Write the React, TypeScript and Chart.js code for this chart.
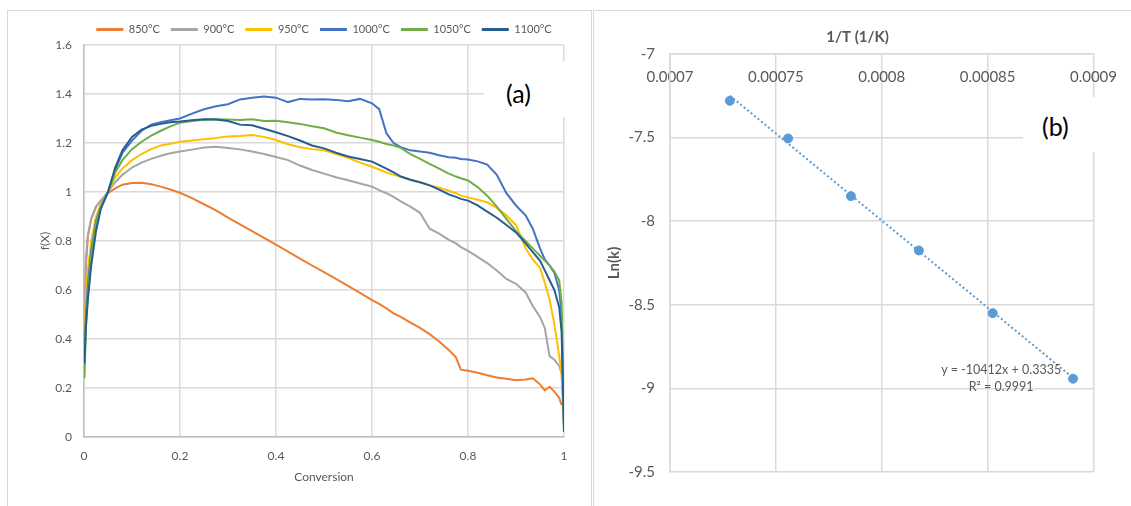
import React, { useEffect, useRef } from 'react';
import { Chart, registerables } from 'chart.js';

Chart.register(...registerables);

// ---------- Chart (a): f(X) vs conversion ----------
const conversion = [0.001, 0.004, 0.008, 0.015, 0.025, 0.035, 0.05, 0.065, 0.08, 0.1, 0.12, 0.14, 0.16, 0.18, 0.2, 0.225, 0.25, 0.275, 0.3, 0.325, 0.35, 0.375, 0.4, 0.425, 0.45, 0.475, 0.5, 0.525, 0.55, 0.575, 0.6, 0.615, 0.63, 0.645, 0.66, 0.68, 0.7, 0.72, 0.74, 0.76, 0.775, 0.785, 0.8, 0.82, 0.84, 0.86, 0.88, 0.9, 0.92, 0.935, 0.95, 0.96, 0.97, 0.98, 0.99, 0.995, 1.0];

const f850 = [0.42, 0.70, 0.82, 0.89, 0.94, 0.965, 0.995, 1.015, 1.03, 1.037, 1.038, 1.032, 1.022, 1.01, 0.997, 0.975, 0.95, 0.925, 0.895, 0.868, 0.84, 0.813, 0.785, 0.757, 0.728, 0.700, 0.673, 0.645, 0.617, 0.588, 0.559, 0.543, 0.525, 0.505, 0.49, 0.467, 0.445, 0.42, 0.39, 0.355, 0.325, 0.275, 0.27, 0.262, 0.252, 0.243, 0.238, 0.232, 0.235, 0.24, 0.215, 0.19, 0.205, 0.185, 0.16, 0.13, null];
const f900 = [0.45, 0.72, 0.82, 0.89, 0.94, 0.965, 1.0, 1.04, 1.07, 1.10, 1.12, 1.135, 1.148, 1.158, 1.165, 1.173, 1.182, 1.185, 1.18, 1.174, 1.165, 1.155, 1.143, 1.13, 1.108, 1.09, 1.075, 1.06, 1.048, 1.035, 1.022, 1.008, 0.995, 0.98, 0.962, 0.94, 0.915, 0.85, 0.83, 0.805, 0.79, 0.775, 0.76, 0.735, 0.71, 0.68, 0.645, 0.625, 0.59, 0.535, 0.49, 0.445, 0.33, 0.315, 0.29, 0.26, 0.05];
const f950 = [0.40, 0.58, 0.68, 0.80, 0.9, 0.95, 1.0, 1.06, 1.095, 1.13, 1.155, 1.175, 1.19, 1.197, 1.205, 1.21, 1.215, 1.22, 1.227, 1.229, 1.233, 1.225, 1.212, 1.195, 1.183, 1.175, 1.17, 1.155, 1.14, 1.12, 1.103, 1.092, 1.08, 1.07, 1.062, 1.05, 1.04, 1.028, 1.018, 1.005, 0.995, 0.985, 0.978, 0.968, 0.958, 0.935, 0.905, 0.865, 0.77, 0.725, 0.69, 0.63, 0.56, 0.46, 0.33, 0.26, 0.08];
const f1000 = [0.33, 0.5, 0.62, 0.76, 0.88, 0.94, 1.0, 1.09, 1.16, 1.21, 1.25, 1.275, 1.285, 1.293, 1.30, 1.32, 1.338, 1.35, 1.358, 1.378, 1.385, 1.39, 1.385, 1.367, 1.38, 1.378, 1.379, 1.376, 1.37, 1.38, 1.362, 1.338, 1.24, 1.2, 1.183, 1.17, 1.165, 1.16, 1.15, 1.142, 1.14, 1.135, 1.133, 1.125, 1.112, 1.07, 0.995, 0.945, 0.905, 0.85, 0.77, 0.725, 0.70, 0.67, 0.6, 0.5, 0.03];
const f1050 = [0.24, 0.45, 0.58, 0.74, 0.87, 0.94, 1.0, 1.08, 1.13, 1.175, 1.205, 1.23, 1.25, 1.268, 1.283, 1.29, 1.295, 1.297, 1.296, 1.294, 1.297, 1.29, 1.291, 1.285, 1.278, 1.268, 1.26, 1.243, 1.232, 1.222, 1.212, 1.205, 1.196, 1.19, 1.18, 1.155, 1.135, 1.115, 1.095, 1.075, 1.063, 1.056, 1.047, 1.02, 0.985, 0.94, 0.89, 0.84, 0.8, 0.77, 0.74, 0.72, 0.70, 0.675, 0.64, 0.55, 0.02];
const f1100 = [0.30, 0.45, 0.56, 0.70, 0.84, 0.93, 1.0, 1.1, 1.17, 1.225, 1.255, 1.27, 1.278, 1.285, 1.288, 1.293, 1.297, 1.296, 1.29, 1.275, 1.272, 1.258, 1.244, 1.228, 1.21, 1.19, 1.178, 1.16, 1.145, 1.135, 1.124, 1.11, 1.095, 1.08, 1.063, 1.05, 1.04, 1.027, 1.01, 0.99, 0.98, 0.972, 0.965, 0.945, 0.92, 0.895, 0.865, 0.835, 0.79, 0.755, 0.72, 0.68, 0.64, 0.6, 0.53, 0.43, 0.02];

const seriesLabels = ['850°C', '900°C', '950°C', '1000°C', '1050°C', '1100°C'];
const seriesValues = [f850, f900, f950, f1000, f1050, f1100];
const seriesColors = ['#ED7D31', '#A5A5A5', '#FFC000', '#4472C4', '#70AD47', '#255E91'];

const xTickValuesA = [0, 0.2, 0.4, 0.6, 0.8, 1];
const xTickLabelsA = ['0', '0.2', '0.4', '0.6', '0.8', '1'];
const yTickValuesA = [0, 0.2, 0.4, 0.6, 0.8, 1, 1.2, 1.4, 1.6];
const yTickLabelsA = ['0', '0.2', '0.4', '0.6', '0.8', '1', '1.2', '1.4', '1.6'];

// ---------- Chart (b): Arrhenius plot ----------
const invT = [0.00072826, 0.00075577, 0.00078544, 0.00081753, 0.0008524, 0.00089036];
const lnK = [-7.28, -7.505, -7.85, -8.175, -8.55, -8.942];
const trendSlope = -10412;
const trendIntercept = 0.3335;
const trendR2 = 0.9991;

const xTickValuesB = [0.0007, 0.00075, 0.0008, 0.00085, 0.0009];
const xTickLabelsB = ['0.0007', '0.00075', '0.0008', '0.00085', '0.0009'];
const yTickValuesB = [-9.5, -9, -8.5, -8, -7.5, -7];
const yTickLabelsB = ['-9.5', '-9', '-8.5', '-8', '-7.5', '-7'];

const TXT = '#595959';
const GRID = '#d9d9d9';

const annotB = {
  id: 'annotB',
  afterDraw(chart: any) {
    const { ctx, chartArea: a } = chart;
    const w = a.right - a.left;
    const h = a.bottom - a.top;
    ctx.save();
    ctx.fillStyle = TXT;
    ctx.textAlign = 'center';
    ctx.textBaseline = 'middle';
    ctx.font = 'bold 15px Lato';
    ctx.fillText('1/T (1/K)', a.left + 0.443 * w, a.top - 17);
    ctx.font = '12.5px Lato';
    const cx = a.left + 0.782 * w;
    ctx.fillText(`y = ${trendSlope}x + ${trendIntercept}`, cx, a.top + 0.756 * h);
    ctx.fillText(`R² = ${trendR2}`, cx, a.top + 0.797 * h);
    ctx.restore();
  },
};

export default function App() {
  const refA = useRef<HTMLCanvasElement>(null);
  const refB = useRef<HTMLCanvasElement>(null);

  useEffect(() => {
    Chart.defaults.font.family = 'Lato';
    const fontA = { family: 'Lato', size: 12 };

    const chartA = new Chart(refA.current!, {
      type: 'line',
      data: {
        datasets: seriesLabels.map((label, i) => ({
          label,
          data: conversion.map((x, j) => ({ x, y: seriesValues[i][j] })),
          borderColor: seriesColors[i],
          backgroundColor: seriesColors[i],
          borderWidth: 2,
          pointRadius: 0,
          tension: 0,
          order: seriesLabels.length - i,
        })),
      },
      options: {
        responsive: false,
        animation: false,
        events: [],
        layout: { padding: { left: 26, right: 26, top: 2, bottom: 13 } },
        plugins: {
          tooltip: { enabled: false },
          legend: {
            position: 'top',
            fullSize: false,
            labels: {
              boxWidth: 27,
              boxHeight: 3,
              padding: 11,
              color: TXT,
              font: { family: 'Lato', size: 11 },
              sort: (a: any, b: any) => a.datasetIndex - b.datasetIndex,
              generateLabels: (chart: any) =>
                Chart.defaults.plugins.legend.labels
                  .generateLabels(chart)
                  .map((l: any) => ({ ...l, lineWidth: 0, fillStyle: l.strokeStyle })),
            },
          },
        },
        scales: {
          x: {
            type: 'linear',
            min: 0,
            max: 1,
            afterBuildTicks: (s: any) => {
              s.ticks = xTickValuesA.map((v) => ({ value: v }));
            },
            afterFit: (s: any) => {
              s.height = 51;
            },
            ticks: {
              callback: (_v: any, i: number) => xTickLabelsA[i],
              color: TXT,
              font: fontA,
              padding: 12,
              maxRotation: 0,
              autoSkip: false,
            },
            grid: { color: GRID, lineWidth: 1.5, drawTicks: false },
            border: { color: '#bfbfbf', width: 1.5 },
            title: { display: true, text: 'Conversion', color: TXT, font: fontA, padding: { top: 4, bottom: 4 } },
          },
          y: {
            type: 'linear',
            min: 0,
            max: 1.6,
            afterBuildTicks: (s: any) => {
              s.ticks = yTickValuesA.map((v) => ({ value: v }));
            },
            afterFit: (s: any) => {
              s.width = 50;
            },
            ticks: {
              callback: (_v: any, i: number) => yTickLabelsA[i],
              color: TXT,
              font: fontA,
              padding: 12,
              autoSkip: false,
            },
            grid: { color: GRID, lineWidth: 1.5, drawTicks: false },
            border: { color: '#bfbfbf', width: 1.5 },
            title: { display: true, text: 'f(X)', color: TXT, font: fontA, padding: { top: 4, bottom: 4 } },
          },
        },
      },
    } as any);

    const fontB = { family: 'Lato', size: 15 };
    const chartB = new Chart(refB.current!, {
      type: 'scatter',
      data: {
        datasets: [
          {
            label: 'Ln(k)',
            data: invT.map((x, i) => ({ x, y: lnK[i] })),
            backgroundColor: '#5B9BD5',
            borderColor: '#5B9BD5',
            pointRadius: 4.5,
            showLine: false,
            order: 0,
          },
          {
            label: 'Linear (Ln(k))',
            type: 'line',
            data: [invT[0], invT[invT.length - 1]].map((x) => ({ x, y: trendSlope * x + trendIntercept })),
            borderColor: '#5B9BD5',
            borderWidth: 2,
            borderDash: [2, 2.5],
            pointRadius: 0,
            fill: false,
            order: 1,
          },
        ],
      },
      options: {
        responsive: false,
        animation: false,
        events: [],
        layout: { padding: { left: 7, right: 30, top: 13, bottom: 34 } },
        plugins: { legend: { display: false }, tooltip: { enabled: false } },
        scales: {
          x: {
            type: 'linear',
            position: 'top',
            min: 0.0007,
            max: 0.0009,
            afterBuildTicks: (s: any) => {
              s.ticks = xTickValuesB.map((v) => ({ value: v }));
            },
            afterFit: (s: any) => {
              s.height = 30;
            },
            ticks: {
              callback: (_v: any, i: number) => xTickLabelsB[i],
              mirror: true,
              padding: 14,
              color: TXT,
              font: fontB,
              maxRotation: 0,
              autoSkip: false,
            },
            grid: { color: GRID, lineWidth: 1.5, drawTicks: false },
            border: { color: GRID, width: 1.5 },
          },
          y: {
            type: 'linear',
            min: -9.5,
            max: -7,
            afterBuildTicks: (s: any) => {
              s.ticks = yTickValuesB.map((v) => ({ value: v }));
            },
            afterFit: (s: any) => {
              s.width = 69;
            },
            ticks: {
              callback: (_v: any, i: number) => yTickLabelsB[i],
              padding: 15,
              color: TXT,
              font: fontB,
              autoSkip: false,
            },
            grid: { color: GRID, lineWidth: 1.5, drawTicks: false },
            border: { color: GRID, width: 1.5 },
            title: {
              display: true,
              text: 'Ln(k)',
              color: TXT,
              font: { family: 'Lato', size: 15, weight: 'bold' },
              padding: { top: 4, bottom: 4 },
            },
          },
        },
      },
      plugins: [annotB],
    } as any);

    return () => {
      chartA.destroy();
      chartB.destroy();
    };
  }, []);

  const labelBox: React.CSSProperties = {
    position: 'absolute',
    background: '#ffffff',
    fontFamily: 'Lato',
    fontSize: 25,
    lineHeight: '28px',
    color: '#000000',
  };

  return (
    <div style={{ position: 'fixed', left: 0, top: 0, width: 1131, height: 506, background: '#ffffff', overflow: 'hidden' }}>
      <div style={{ position: 'absolute', left: 7, top: 10, width: 585, height: 520, border: '1px solid #d9d9d9', boxSizing: 'border-box' }} />
      <div style={{ position: 'absolute', left: 593, top: 10, width: 560, height: 520, border: '1px solid #d9d9d9', boxSizing: 'border-box' }} />
      <canvas ref={refA} width={582} height={490} style={{ position: 'absolute', left: 8, top: 11, width: 582, height: 490 }} />
      <canvas ref={refB} width={537} height={495} style={{ position: 'absolute', left: 594, top: 11, width: 537, height: 495 }} />
      <div style={{ ...labelBox, left: 484, top: 61, width: 86, height: 56 }}>
        <span style={{ position: 'absolute', left: 22, top: 18 }}>(a)</span>
      </div>
      <div style={{ ...labelBox, left: 1023, top: 97, width: 87, height: 55 }}>
        <span style={{ position: 'absolute', left: 19, top: 15 }}>(b)</span>
      </div>
    </div>
  );
}
